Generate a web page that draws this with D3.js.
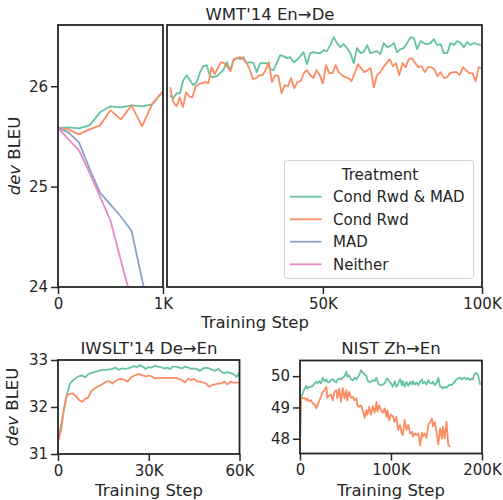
<!DOCTYPE html>
<html><head><meta charset="utf-8">
<script src="https://cdn.jsdelivr.net/npm/d3@7"></script>
<style>body{margin:0;background:#fff} text{font-family:"DejaVu Sans",sans-serif;fill:#262626}</style>
</head><body>
<svg id="c" width="503" height="500" xmlns="http://www.w3.org/2000/svg"></svg>
<script>
const seriesNames = ["Cond Rwd & MAD", "Cond Rwd", "MAD", "Neither"];
const seriesColors = ["#66c2a5", "#fc8d62", "#8da0cb", "#e78ac3"];

// WMT'14 En->De, first 1K steps
const wmtEarlySteps = [0,100,200,300,400,500,600,700,800,900,1000];
const wmtEarlyCondRwdMAD = [25.585,25.59,25.58,25.61,25.74,25.8,25.79,25.81,25.8,25.82,25.95];
const wmtEarlyCondRwd = [25.585,25.57,25.52,25.57,25.61,25.76,25.67,25.81,25.6,25.83,25.95];
const wmtEarlyMAD = [25.585,25.54,25.44,25.18,24.94,24.82,24.70,24.56,24.08,23.6,null];
const wmtEarlyNeither = [25.585,25.47,25.36,25.14,24.9,24.66,24.26,23.87,null,null,null];

// WMT'14 En->De, 1K..100K steps (in K)
const wmtLateStepsA = [1.9,3.0,4.0,5.1,6.1,7.2,8.2,9.3,10.3,11.4,12.4,13.5,14.5,15.6,16.6,17.7,18.7,19.8,20.8,21.9,22.9,24.0,25.0,26.1,27.1,28.2,29.2,30.3,31.3,32.4,33.4,34.5,35.5,36.6,37.6,38.7,39.7,40.8,41.8,42.9,43.9,45.0,46.0,47.1,48.1,49.2,50.2,51.3,52.3,53.4,54.4,55.5,56.5,57.6,58.6,59.7,60.7,61.8,62.8,63.9,64.9,66.0,67.0,68.1,69.1,70.2,71.2,72.3,73.3,74.4,75.4,76.5,77.5,78.6,79.6,80.7,81.7,82.8,83.8,84.9,85.9,87.0,88.0,89.1,90.1,91.2,92.2,93.3,94.3,95.4,96.4,97.5,98.5,99.6];
const wmtLateCondRwdMAD = [25.91,25.88,25.93,25.93,26.06,26.11,26.06,26.01,26.04,26.14,26.2,26.21,26.1,26.09,26.1,26.13,26.16,26.24,26.16,26.26,26.28,26.27,26.29,26.23,26.24,26.23,26.14,26.23,26.23,26.23,26.17,26.16,26.23,26.31,26.3,26.28,26.29,26.24,26.26,26.3,26.34,26.22,26.33,26.34,26.33,26.33,26.36,26.35,26.41,26.49,26.43,26.39,26.42,26.38,26.33,26.23,26.38,26.33,26.34,26.41,26.33,26.34,26.35,26.32,26.43,26.39,26.4,26.43,26.34,26.37,26.38,26.43,26.49,26.48,26.37,26.45,26.43,26.42,26.43,26.47,26.41,26.42,26.33,26.33,26.43,26.41,26.45,26.43,26.39,26.44,26.41,26.43,26.42,26.41];
const wmtLateStepsB = [2,3,4,5,6,7,8,9,10,11,12,13,14,15,16,17,18,19,20,21,22,23,24,25,26,27,28,29,30,31,32,33,34,35,36,37,38,39,40,41,42,43,44,45,46,47,48,49,50,51,52,53,54,55,56,57,58,59,60,61,62,63,64,65,66,67,68,69,70,71,72,73,74,75,76,77,78,79,80,81,82,83,84,85,86,87,88,89,90,91,92,93,94,95,96,97,98,99,100];
const wmtLateCondRwd = [25.99,25.84,25.8,25.89,25.79,25.94,25.9,25.89,26.0,26.02,26.03,26.04,26.03,26.19,26.12,26.18,26.24,26.23,26.19,26.15,26.27,26.28,26.29,26.27,26.23,26.17,26.07,26.08,26.11,26.11,26.16,26.24,26.04,26.11,26.1,25.93,26.01,26.0,26.08,25.98,26.04,26.05,26.13,26.16,26.11,26.08,26.16,26.11,26.03,26.21,26.13,26.13,26.21,26.14,26.11,26.09,26.08,26.05,26.13,26.22,26.18,26.14,26.16,26.18,25.99,26.11,26.14,26.19,26.23,26.27,26.2,26.23,26.11,26.23,26.19,26.27,26.28,26.23,26.19,26.2,26.14,26.19,26.19,26.17,26.1,26.14,26.08,26.09,26.13,26.14,26.14,26.11,26.19,26.16,26.13,26.13,26.05,26.19,26.18];

// IWSLT'14 De->En (steps in K)
const iwsltSteps = [0,1,2,3,4,5,6,7,8,9,10,11,12,13,14,15,16,17,18,19,20,21,22,23,24,25,26,27,28,29,30,31,32,33,34,35,36,37,38,39,40,41,42,43,44,45,46,47,48,49,50,51,52,53,54,55,56,57,58,59,60];
const iwsltCondRwdMAD = [31.28,31.6,31.95,32.29,32.5,32.57,32.62,32.66,32.67,32.63,32.7,32.72,32.74,32.76,32.78,32.79,32.79,32.8,32.81,32.84,32.79,32.82,32.81,32.82,32.84,32.87,32.85,32.89,32.86,32.81,32.85,32.84,32.88,32.86,32.85,32.82,32.84,32.81,32.86,32.86,32.84,32.82,32.86,32.84,32.81,32.82,32.8,32.77,32.82,32.84,32.82,32.79,32.77,32.81,32.75,32.72,32.74,32.72,32.7,32.64,32.72];
const iwsltCondRwd = [31.26,31.5,31.98,32.26,32.28,32.29,32.22,32.15,32.11,32.18,32.2,32.34,32.39,32.43,32.46,32.5,32.54,32.55,32.5,32.55,32.59,32.6,32.58,32.54,32.62,32.66,32.69,32.7,32.67,32.65,32.67,32.65,32.61,32.62,32.62,32.62,32.62,32.62,32.62,32.62,32.6,32.57,32.52,32.6,32.57,32.6,32.54,32.54,32.52,32.5,32.43,32.47,32.48,32.5,32.5,32.54,32.48,32.54,32.52,32.52,32.52];

// NIST Zh->En (steps in K)
const nistSteps = [0,1,3,5,7,8,10,12,14,16,18,19,21,23,25,27,29,30,32,34,36,38,40,41,43,45,47,49,51,52,54,56,58,60,62,63,65,67,69,71,73,74,76,78,80,82,84,85,87,89,91,93,95,96,98,100,102,104,106,108,110,112,113,115,117,119,121,123,124,126,128,130,132,134,135,137,139,141,143,145,146,148,150,152,154,156,157,159,161,163,165,167,168,170,172,174,176,178,179,181,183,185,187,189,190,192,194,196,198];
const nistCondRwdMAD = [47.8,49.34,49.45,49.6,49.69,49.6,49.66,49.66,49.69,49.77,49.82,49.77,49.84,49.77,49.95,49.84,49.9,49.82,49.8,49.87,49.9,49.84,49.8,49.87,49.93,49.9,49.95,50.01,50.14,49.98,50.03,49.9,49.87,49.95,49.9,49.95,50.03,50.19,50.12,50.05,50.01,49.87,49.82,49.82,49.87,49.84,49.95,49.84,49.73,49.71,49.73,49.77,49.9,49.93,49.84,49.77,
  49.66,49.84,49.66,49.77,49.9,49.71,49.84,49.66,49.82,49.69,49.82,49.73,49.84,49.73,49.8,49.71,49.82,49.9,49.77,49.82,49.73,49.87,49.77,49.77,49.82,49.71,49.77,49.95,49.66,49.66,49.6,49.66,49.63,49.69,49.73,49.71,49.77,49.82,49.9,49.93,49.95,49.9,49.93,49.95,49.9,49.93,49.87,49.93,49.9,50.09,50.1,50.0,49.72];
const nistCondRwd = [47.8,49.34,49.29,49.31,49.23,49.29,49.2,49.23,49.13,49.1,48.97,49.07,49.2,49.34,49.5,49.55,49.66,49.3,49.39,49.41,49.23,49.5,49.55,49.29,49.6,49.18,49.62,49.29,49.55,49.23,49.5,49.31,49.34,49.23,49.29,49.07,49.02,49.07,48.91,48.67,48.91,48.77,49.02,48.77,49.04,48.83,49.18,48.87,49.07,48.91,48.83,48.97,48.7,48.91,48.6,48.77,
  48.72,48.54,48.7,48.28,48.44,48.17,48.12,48.6,48.28,48.44,48.17,48.22,48.07,48.17,48.12,48.17,47.8,48.2,48.07,48.17,48.03,48.44,48.54,48.65,48.4,48.54,48.22,47.82,48.33,48.01,48.38,48.01,48.54,47.8,47.74,
  null,null,null,null,null,null,null,null,null,null,null,null,null,null,null,null,null,null];

const INK = "#262626";
const svg = d3.select("#c");
let clipN = 0;

function panel(o) {
  const g = svg.append("g");
  const x = d3.scaleLinear().domain(o.xd).range([o.l, o.r]);
  const y = d3.scaleLinear().domain(o.yd).range([o.b, o.t]);
  const id = "clip" + (clipN++);
  svg.append("clipPath").attr("id", id).append("rect")
    .attr("x", o.l).attr("y", o.t).attr("width", o.r - o.l).attr("height", o.b - o.t);
  const line = d3.line().defined(d => d[1] != null).x(d => x(d[0])).y(d => y(d[1]));
  o.series.forEach(s => {
    g.append("path").datum(s.xs.map((v, i) => [v, s.ys[i]]))
      .attr("clip-path", `url(#${id})`)
      .attr("fill", "none").attr("stroke", s.color).attr("stroke-width", 1.8)
      .attr("stroke-linejoin", "round").attr("d", line);
  });
  const xa = g.append("g").attr("transform", `translate(0,${o.b})`)
    .call(d3.axisBottom(x).tickValues(o.xt).tickFormat(o.xf).tickSize(7).tickPadding(4));
  styleAxis(xa);
  if (o.yt) {
    const ya = g.append("g").attr("transform", `translate(${o.l},0)`)
      .call(d3.axisLeft(y).tickValues(o.yt).tickFormat(d3.format("d")).tickSize(7).tickPadding(3));
    styleAxis(ya);
  }
  g.append("rect").attr("x", o.l).attr("y", o.t).attr("width", o.r - o.l).attr("height", o.b - o.t)
    .attr("fill", "none").attr("stroke", INK).attr("stroke-width", 1.8);
  return {x, y};
}
function styleAxis(a) {
  a.select(".domain").remove();
  a.attr("font-family", null).attr("font-size", null);
  a.selectAll("line").attr("stroke", INK).attr("stroke-width", 1.5);
  a.selectAll("text").style("font-size", "15px").attr("fill", INK);
}
const kfmt = d => d === 0 ? "0" : (d >= 1000 ? d / 1000 : d) + "K";

// Top-left panel
panel({l: 58, r: 163, t: 25, b: 287, xd: [0, 1000], yd: [24, 26.61],
  xt: [0, 1000], xf: d => d === 0 ? "0" : "1K", yt: [24, 25, 26],
  series: [
    {xs: wmtEarlySteps, ys: wmtEarlyCondRwdMAD, color: seriesColors[0]},
    {xs: wmtEarlySteps, ys: wmtEarlyCondRwd, color: seriesColors[1]},
    {xs: wmtEarlySteps, ys: wmtEarlyMAD, color: seriesColors[2]},
    {xs: wmtEarlySteps, ys: wmtEarlyNeither, color: seriesColors[3]}
  ]});
// Top-right panel
panel({l: 167, r: 482, t: 25, b: 287, xd: [1, 100], yd: [24, 26.61],
  xt: [50, 100], xf: d => d + "K", yt: null,
  series: [
    {xs: wmtLateStepsA, ys: wmtLateCondRwdMAD, color: seriesColors[0]},
    {xs: wmtLateStepsB, ys: wmtLateCondRwd, color: seriesColors[1]}
  ]});
// Bottom-left
panel({l: 58, r: 239.5, t: 360, b: 454, xd: [0, 60], yd: [31, 33],
  xt: [0, 30, 60], xf: d => d === 0 ? "0" : d + "K", yt: [31, 32, 33],
  series: [
    {xs: iwsltSteps, ys: iwsltCondRwdMAD, color: seriesColors[0]},
    {xs: iwsltSteps, ys: iwsltCondRwd, color: seriesColors[1]}
  ]});
// Bottom-right
panel({l: 300, r: 482, t: 360.5, b: 453.5, xd: [0, 200], yd: [47.53, 50.5],
  xt: [0, 100, 200], xf: d => d === 0 ? "0" : d + "K", yt: [48, 49, 50],
  series: [
    {xs: nistSteps, ys: nistCondRwdMAD, color: seriesColors[0]},
    {xs: nistSteps, ys: nistCondRwd, color: seriesColors[1]}
  ]});

// Titles and labels
function label(txt, x, y, size, rot) {
  const t = svg.append("text").attr("text-anchor", "middle").style("font-size", size + "px")
    .attr("transform", `translate(${x},${y})` + (rot ? " rotate(-90)" : ""));
  return t.text(txt);
}
label("WMT'14 En\u2192De", 270, 20, 16.5);
label("IWSLT'14 De\u2192En", 149, 354, 16.5);
label("NIST Zh\u2192En", 391, 354, 16.5);
label("Training Step", 255, 328, 16.5);
label("Training Step", 149, 496, 16.5);
label("Training Step", 391, 496, 16.5);
function ylab(x, y) {
  const t = svg.append("text").attr("text-anchor", "middle").style("font-size", "16.5px")
    .attr("transform", `translate(${x},${y}) rotate(-90)`);
  t.append("tspan").attr("font-style", "italic").text("dev");
  t.append("tspan").text(" BLEU");
}
ylab(20, 156);
ylab(18, 407);

// Legend
const lg = svg.append("g");
lg.append("rect").attr("x", 284.5).attr("y", 160.5).attr("width", 189).attr("height", 118).attr("rx", 3)
  .attr("fill", "#fff").attr("fill-opacity", 0.8).attr("stroke", "#d0d0d0").attr("stroke-width", 1);
lg.append("text").attr("x", 380).attr("y", 179.5).attr("text-anchor", "middle").style("font-size", "15px").text("Treatment");
const rowY = [196.7, 219.3, 241.7, 264.3];
seriesNames.forEach((n, i) => {
  lg.append("line").attr("x1", 290).attr("x2", 321.5).attr("y1", rowY[i]).attr("y2", rowY[i])
    .attr("stroke", seriesColors[i]).attr("stroke-width", 1.8);
  lg.append("text").attr("x", 333).attr("y", rowY[i] + 5.5).style("font-size", "15px").text(n);
});
</script>
</body></html>
